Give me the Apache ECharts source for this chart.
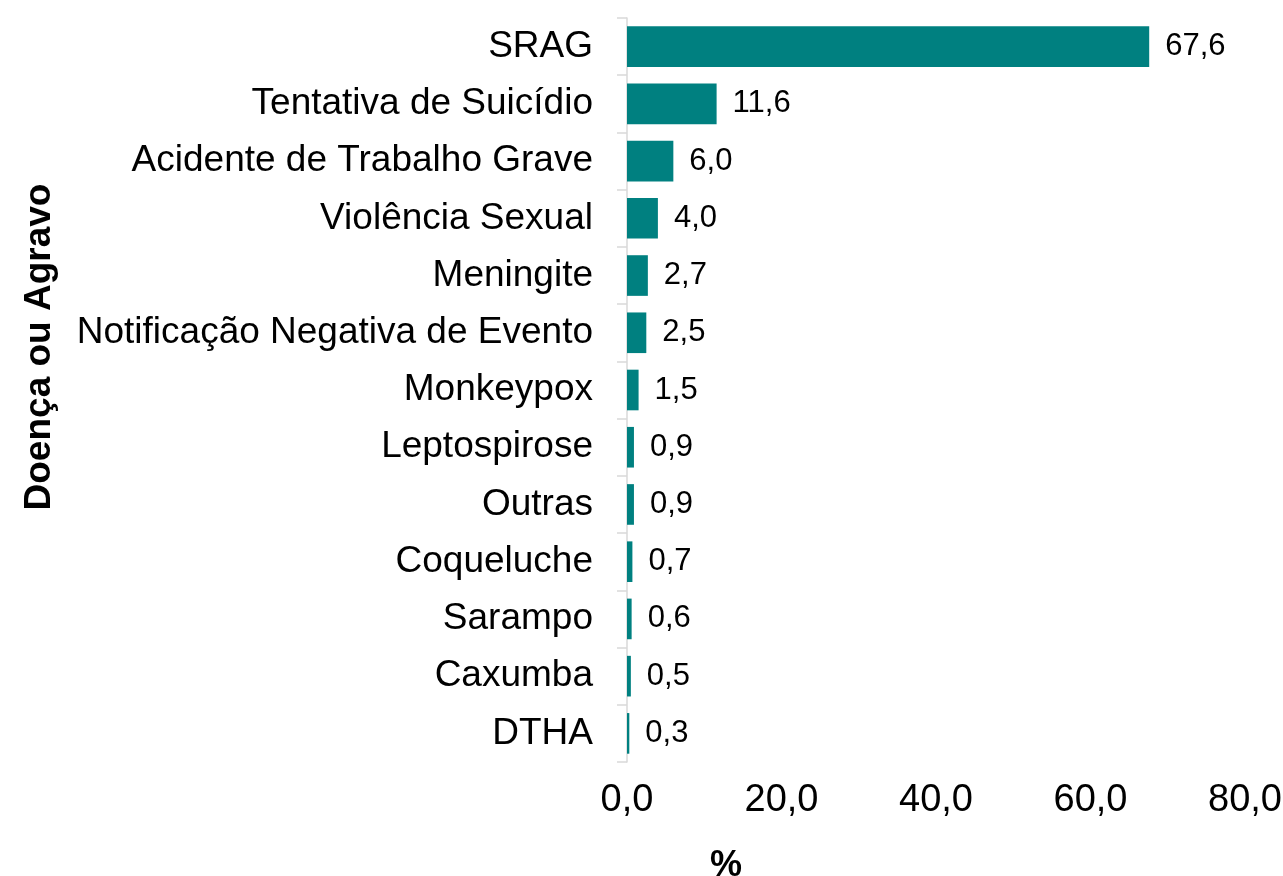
<!doctype html>
<html>
<head>
<meta charset="UTF-8">
<title>Doença ou Agravo</title>
<script src="https://cdn.jsdelivr.net/npm/echarts@6/dist/echarts.min.js"></script>
<style>
  html, body { margin: 0; padding: 0; background: #fff; }
  #main { width: 1283px; height: 876px; }
</style>
</head>
<body>
<div id="main"></div>
<script>
// dados do gráfico
var categorias = ['SRAG', 'Tentativa de Suicídio', 'Acidente de Trabalho Grave', 'Violência Sexual',
    'Meningite', 'Notificação Negativa de Evento', 'Monkeypox', 'Leptospirose', 'Outras',
    'Coqueluche', 'Sarampo', 'Caxumba', 'DTHA'];
var percentuais = [67.6, 11.6, 6.0, 4.0, 2.7, 2.5, 1.5, 0.9, 0.9, 0.7, 0.6, 0.5, 0.3];
var eixoX = { min: 0, max: 80, interval: 20 };

function virgula(v) {
    return Number(v).toFixed(1).replace('.', ',');
}

var myChart = echarts.init(document.getElementById('main'));
var option = {
    animation: false,
    grid: { left: 627, right: 38, top: 18, bottom: 114, outerBoundsMode: 'none' },
    xAxis: {
        type: 'value',
        min: eixoX.min,
        max: eixoX.max,
        interval: eixoX.interval,
        axisLine: { show: false },
        axisTick: { show: false },
        splitLine: { show: false },
        axisLabel: {
            margin: 20,
            color: '#000',
            fontFamily: '"Liberation Sans", Arial, sans-serif',
            fontSize: 38,
            formatter: virgula
        }
    },
    yAxis: {
        type: 'category',
        inverse: true,
        data: categorias,
        axisLine: { show: true, lineStyle: { color: '#d9d9d9', width: 1.5 } },
        axisTick: { show: true, length: 10, lineStyle: { color: '#d9d9d9', width: 1.5 } },
        axisLabel: {
            margin: 34,
            color: '#000',
            fontFamily: '"Liberation Sans", Arial, sans-serif',
            fontSize: 37
        }
    },
    series: [{
        type: 'bar',
        data: percentuais,
        barWidth: '71%',
        itemStyle: { color: '#008080' },
        label: {
            show: true,
            position: 'right',
            distance: 16,
            color: '#000',
            fontFamily: '"Liberation Sans", Arial, sans-serif',
            fontSize: 31,
            formatter: function (p) { return virgula(p.value); }
        }
    }],
    graphic: [
        {
            type: 'text',
            x: 40,
            y: 347,
            rotation: Math.PI / 2,
            style: {
                text: 'Doença ou Agravo',
                fill: '#000',
                font: 'bold 37px "Liberation Sans", Arial, sans-serif',
                textAlign: 'center',
                textVerticalAlign: 'middle'
            }
        },
        {
            type: 'text',
            x: 726,
            y: 848,
            style: {
                text: '%',
                fill: '#000',
                font: 'bold 36px "Liberation Sans", Arial, sans-serif',
                textAlign: 'center',
                textVerticalAlign: 'top'
            }
        }
    ]
};
myChart.setOption(option);
</script>
</body>
</html>
